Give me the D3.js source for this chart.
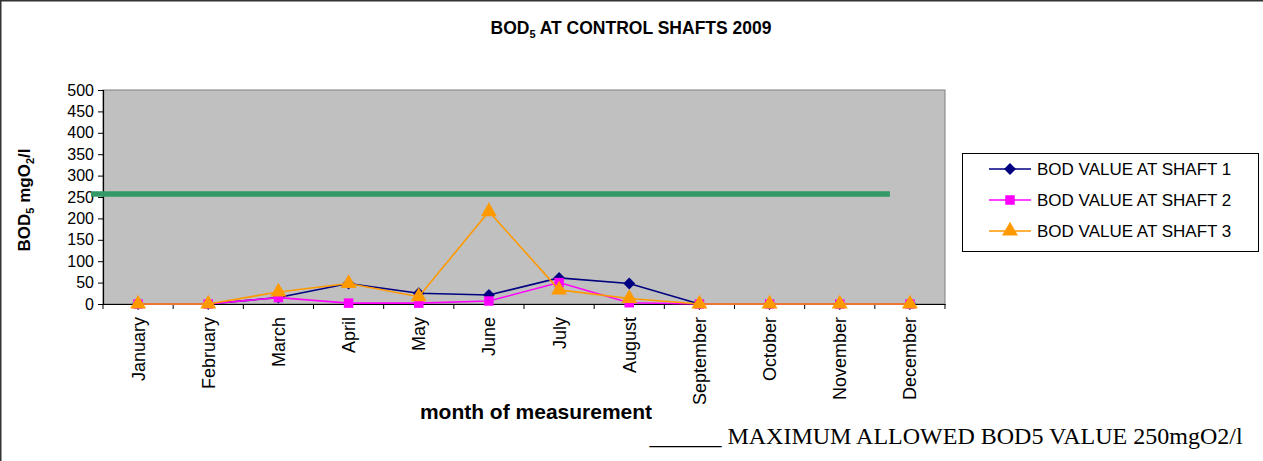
<!DOCTYPE html>
<html>
<head>
<meta charset="utf-8">
<script src="https://cdn.jsdelivr.net/npm/d3@7"></script>
<style>
  body { margin: 0; background: #fff; }
  text { font-family: "Liberation Sans", Arial, sans-serif; fill: #000; }
</style>
</head>
<body>
<div id="chart"></div>
<script>
((() => {

  // data
  var months = ["January", "February", "March", "April", "May", "June",
    "July", "August", "September", "October", "November", "December"];
  var shaft1 = [0, 0, 15, 48, 25, 21, 61, 48, 0, 0, 0, 0];
  var shaft2 = [0, 0, 15, 2, 2, 7, 50, 3, 0, 0, 0, 0];
  var shaft3 = [0, 0, 28, 48, 17, 216, 33, 13, 0, 0, 0, 0];
  var seriesNames = ["BOD VALUE AT SHAFT 1", "BOD VALUE AT SHAFT 2", "BOD VALUE AT SHAFT 3"];
  var yTicks = [0, 50, 100, 150, 200, 250, 300, 350, 400, 450, 500];
  var limitValue = 257; // hand-drawn green line sits a bit above 250

  var width = 1263;
  var height = 461;

  var svg = d3.select("#chart")
    .append("svg")
    .attr("width", width)
    .attr("height", height);

  // outer frame (only top and left edges are visible)
  svg.append("rect")
    .attr("x", 0.75).attr("y", 0.75)
    .attr("width", width + 10).attr("height", height + 10)
    .attr("fill", "none")
    .attr("stroke", "#333")
    .attr("stroke-width", 1.5);

  var x = d3.scaleBand().domain(months).range([103, 945]);
  var y = d3.scaleLinear().domain([0, 500]).range([304, 90]);
  var cx = function(i) { return x(months[i]) + x.bandwidth() / 2; };

  // plot area
  svg.append("rect")
    .attr("x", x.range()[0]).attr("y", y(500))
    .attr("width", x.range()[1] - x.range()[0])
    .attr("height", y(0) - y(500))
    .attr("fill", "#c0c0c0")
    .attr("stroke", "#808080")
    .attr("stroke-width", 1);

  // axes
  var yAxis = svg.append("g")
    .attr("transform", "translate(" + x.range()[0] + ",0)")
    .call(d3.axisLeft(y).tickValues(yTicks).tickSize(5).tickPadding(4));
  yAxis.selectAll("text").style("font-size", "16px");

  var xAxis = svg.append("g")
    .attr("transform", "translate(0," + y(0) + ")")
    .call(d3.axisBottom(x).tickSize(0).tickFormat(""));
  // ticks between categories
  xAxis.selectAll("line.sep")
    .data(d3.range(months.length + 1))
    .enter()
    .append("line")
    .attr("class", "sep")
    .attr("x1", function(i) { return x.range()[0] + i * x.step(); })
    .attr("x2", function(i) { return x.range()[0] + i * x.step(); })
    .attr("y1", 0).attr("y2", 5)
    .attr("stroke", "#000");
  svg.selectAll(".domain").attr("stroke", "#000").attr("stroke-width", 1.2);

  svg.append("g")
    .selectAll("text")
    .data(months)
    .enter()
    .append("text")
    .attr("transform", function(d, i) { return "translate(" + (cx(i) + 6.5) + "," + (y(0) + 13) + ") rotate(-90)"; })
    .attr("text-anchor", "end")
    .style("font-size", "18px")
    .text(function(d) { return d; });

  // limit line
  svg.append("line")
    .attr("x1", x.range()[0] - 12)
    .attr("x2", cx(11) - 20)
    .attr("y1", y(limitValue))
    .attr("y2", y(limitValue))
    .attr("stroke", "#339966")
    .attr("stroke-width", 5.5);

  var series = [
    { values: shaft1, color: "#000080", symbol: d3.symbolDiamond2, size: 90 },
    { values: shaft2, color: "#ff00ff", symbol: d3.symbolSquare, size: 90 },
    { values: shaft3, color: "#ff9900", symbol: d3.symbolTriangle, size: 110 }
  ];

  var line = d3.line()
    .x(function(d, i) { return cx(i); })
    .y(function(d) { return y(d); });

  series.forEach(function(s) {
    svg.append("path")
      .datum(s.values)
      .attr("d", line)
      .attr("fill", "none")
      .attr("stroke", s.color)
      .attr("stroke-width", 1.6);
    svg.append("g")
      .selectAll("path")
      .data(s.values)
      .enter()
      .append("path")
      .attr("transform", function(d, i) { return "translate(" + cx(i) + "," + y(d) + ")"; })
      .attr("d", d3.symbol().type(s.symbol).size(s.size))
      .attr("fill", s.color);
  });

  // title
  var title = svg.append("text")
    .attr("x", 631).attr("y", 34)
    .attr("text-anchor", "middle")
    .style("font-size", "17.5px")
    .style("font-weight", "bold");
  title.append("tspan").text("BOD");
  title.append("tspan").attr("dy", 4).style("font-size", "11px").text("5");
  title.append("tspan").attr("dy", -4).text(" AT CONTROL SHAFTS 2009");

  // y axis title
  var yTitle = svg.append("text")
    .attr("transform", "translate(30,200) rotate(-90)")
    .attr("text-anchor", "middle")
    .style("font-size", "17px")
    .style("font-weight", "bold");
  yTitle.append("tspan").text("BOD");
  yTitle.append("tspan").attr("dy", 4).style("font-size", "11px").text("5");
  yTitle.append("tspan").attr("dy", -4).text(" mgO");
  yTitle.append("tspan").attr("dy", 4).style("font-size", "11px").text("2");
  yTitle.append("tspan").attr("dy", -4).text("/l");

  // x axis title
  svg.append("text")
    .attr("x", 536).attr("y", 419)
    .attr("text-anchor", "middle")
    .style("font-size", "21px")
    .style("font-weight", "bold")
    .text("month of measurement");

  // note under the chart
  svg.append("text")
    .attr("x", 946).attr("y", 444)
    .attr("text-anchor", "middle")
    .style("font-family", "'Liberation Serif', 'Times New Roman', serif")
    .style("font-size", "24px")
    .text("______ MAXIMUM ALLOWED BOD5 VALUE 250mgO2/l");

  // legend
  var legend = svg.append("g").attr("class", "legend");
  legend.append("rect")
    .attr("x", 962.5).attr("y", 153.5)
    .attr("width", 296).attr("height", 98)
    .attr("fill", "#fff")
    .attr("stroke", "#000");

  series.forEach(function(s, i) {
    var ly = 169 + i * 31;
    legend.append("line")
      .attr("x1", 989).attr("x2", 1031)
      .attr("y1", ly).attr("y2", ly)
      .attr("stroke", s.color)
      .attr("stroke-width", 1.6);
    legend.append("path")
      .attr("transform", "translate(1010," + ly + ")")
      .attr("d", d3.symbol().type(s.symbol).size(s.size))
      .attr("fill", s.color);
    legend.append("text")
      .attr("x", 1037).attr("y", ly + 6)
      .style("font-size", "17px")
      .text(seriesNames[i]);
  });

})());
</script>
</body>
</html>
